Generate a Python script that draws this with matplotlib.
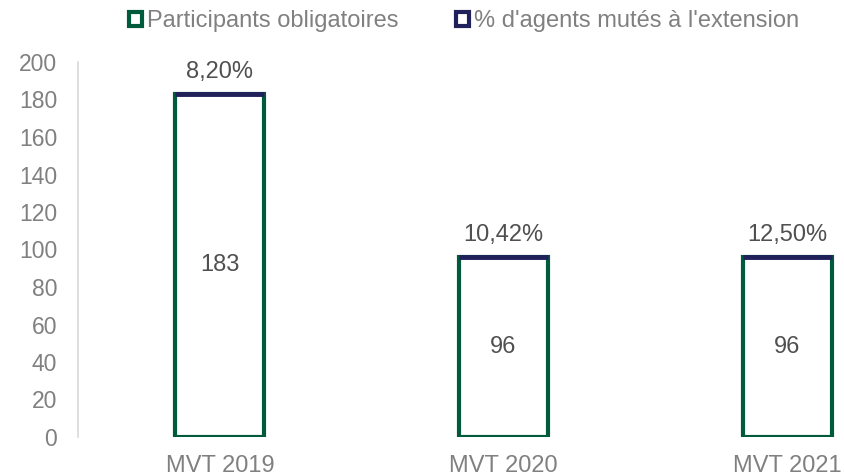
import matplotlib
matplotlib.use("Agg")
import matplotlib.pyplot as plt
from matplotlib.patches import Patch

plt.rcParams['font.family'] = ['Liberation Sans', 'DejaVu Sans']

categories = ["MVT 2019", "MVT 2020", "MVT 2021"]
participants = [183, 96, 96]
pct_values = [8.20, 10.42, 12.50]
pct_labels = ["8,20%", "10,42%", "12,50%"]
series_names = ["Participants obligatoires", "% d'agents mutés à l'extension"]
yticks = [0, 20, 40, 60, 80, 100, 120, 140, 160, 180, 200]

green = "#005A3C"
navy = "#20205A"
tick_col = "#808080"
lab_col = "#505050"

fig = plt.figure(figsize=(8.44, 4.75), dpi=100)
W, H = 844, 475
x0, x1 = 78, 929
y0, y1 = 437, 62
ax = fig.add_axes([x0 / W, (H - y0) / H, (x1 - x0) / W, (y0 - y1) / H])

x = list(range(len(categories)))
bw = 0.313
ax.bar(x, participants, width=bw, facecolor="white", edgecolor=green, linewidth=3)
# percentage series stacked on top (value as fraction: tiny height)
pct_heights = [v / 100 for v in pct_values]
ax.bar(x, pct_heights, bottom=participants, width=bw, facecolor="white",
       edgecolor=navy, linewidth=3.5)

for xi, p, lab in zip(x, participants, pct_labels):
    ax.text(xi, p / 2, str(p), ha="center", va="center", fontsize=17, color=lab_col)
    ax.text(xi, p + 6, lab, ha="center", va="bottom", fontsize=17, color=lab_col)

ax.set_xlim(-0.5, 2.5)
ax.set_ylim(0, 200)
ax.set_yticks(yticks)
ax.set_xticks(x)
ax.set_xticklabels(categories, fontsize=17)
ax.tick_params(axis="both", length=0, colors=tick_col)
ax.tick_params(axis="y", labelsize=16.5, pad=15)
ax.tick_params(axis="x", pad=13)
for s in ["top", "right", "bottom"]:
    ax.spines[s].set_visible(False)
ax.spines["left"].set_color("#D9D9D9")
ax.spines["left"].set_linewidth(1.2)

handles = [Patch(facecolor="white", edgecolor=green, linewidth=3),
           Patch(facecolor="white", edgecolor=navy, linewidth=3)]
fig.legend(handles, series_names, loc="center", bbox_to_anchor=(464 / W, 1 - 21 / H),
           ncol=2, frameon=False, fontsize=17, labelcolor=tick_col,
           handlelength=0.55, handleheight=0.55, handletextpad=0.2, columnspacing=2.45)

fig.savefig("out.png", dpi=100)
